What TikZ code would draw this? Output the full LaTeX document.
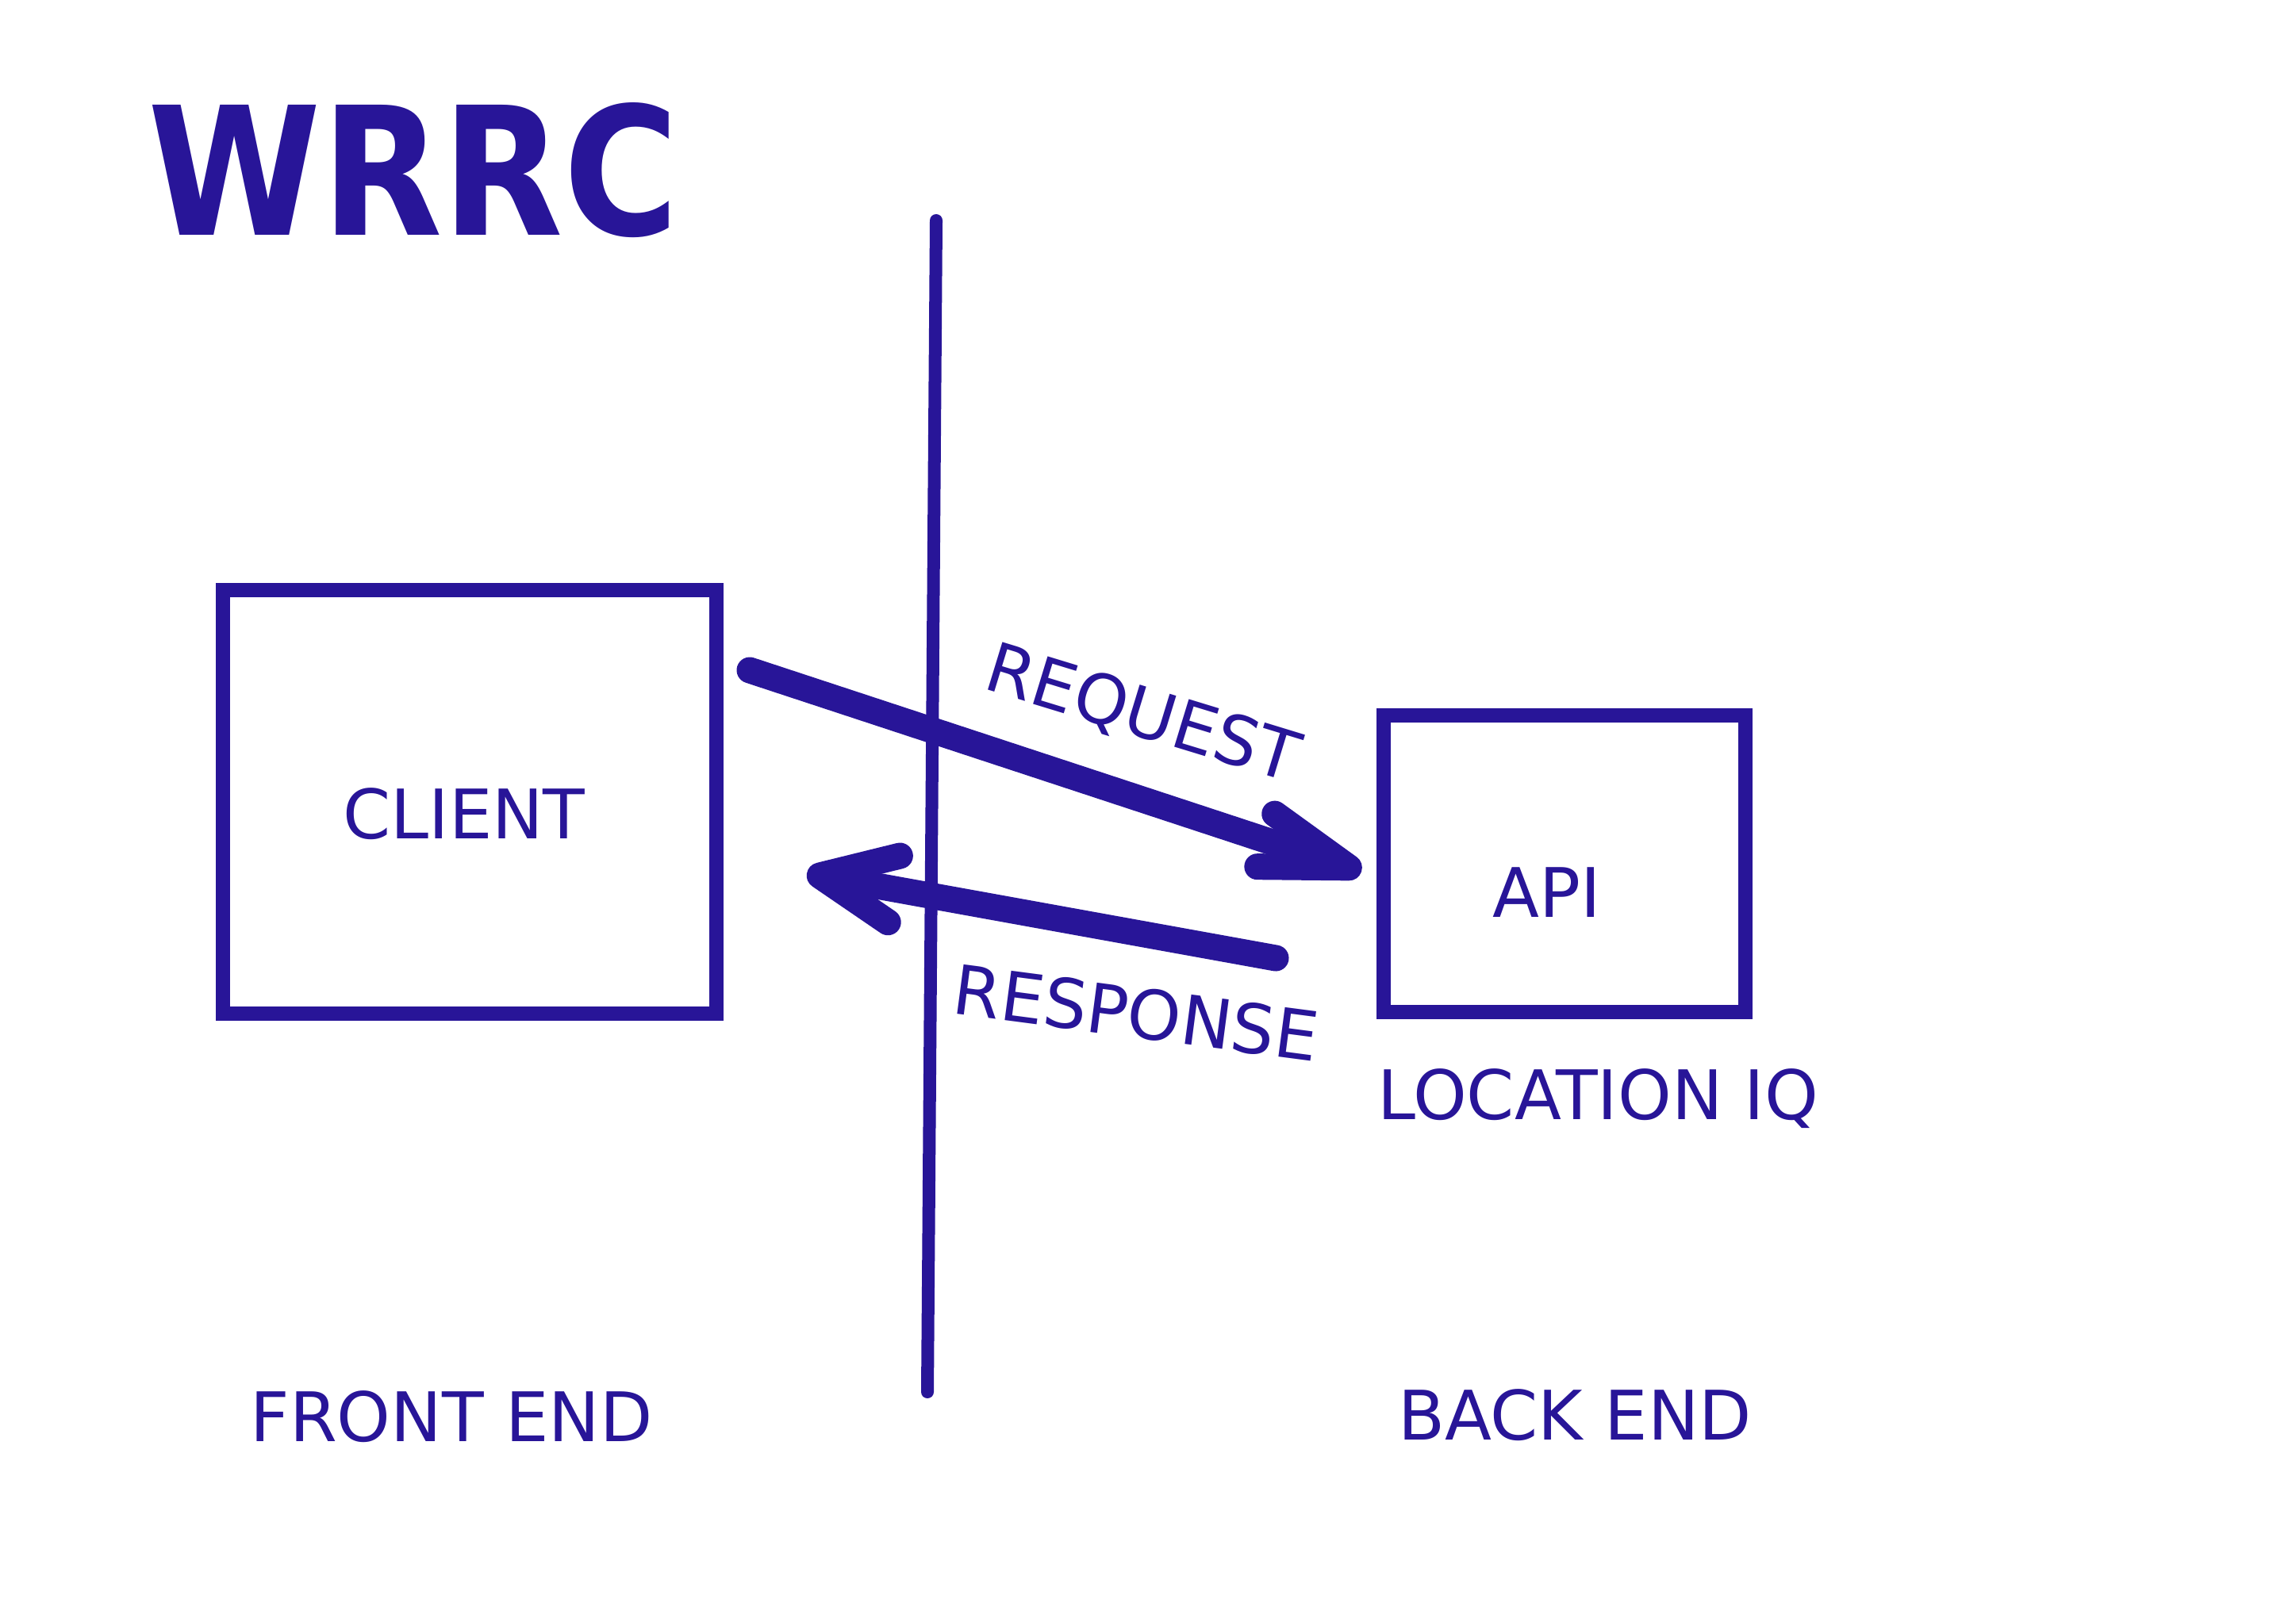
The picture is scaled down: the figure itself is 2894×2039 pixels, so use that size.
\documentclass[tikz,border=0pt]{standalone}
\usepackage{fontspec}
\setmainfont{DejaVu Sans}
\usetikzlibrary{arrows.meta, positioning}
\definecolor{ink}{RGB}{40,21,152}

\begin{document}
\begin{tikzpicture}[
    x=0.01cm, y=-0.01cm,
    box/.style={draw=ink, line width=0.18cm, inner sep=0pt},
    word/.style={text=ink, font=\fontsize{24.5}{30}\selectfont, inner sep=0pt},
    title/.style={text=ink, font=\fontsize{64}{70}\selectfont\bfseries, inner sep=0pt},
    flow/.style={draw=ink, line width=0.33cm, line cap=round, line join=round},
    divider/.style={draw=ink, line width=0.16cm, line cap=round}
]
\useasboundingbox (0,0) rectangle (2894,2039);

% 标题
\node[title] (wrrc) at (521,215) {\scalebox{0.88}[1]{WRRC}};

% 分隔线
\coordinate (divtop) at (1180,278);
\coordinate (divbot) at (1169,1755);
\draw[divider] (divtop) -- (divbot);

% 客户端
\node[box, minimum width=6.21cm, minimum height=5.33cm] (client) at (592,1011) {};
\node[word] (clientlbl) at (585,1026) {CLIENT};

% API
\node[box, minimum width=4.55cm, minimum height=3.74cm] (api) at (1972,1089) {};
\node[word] (apilbl) at (1950,1125) {API};
\node[word, below right=0.62cm and 0cm of api.south west] (lociq) {LOCATION IQ};

% 前端 / 后端
\node[word] (front) at (569,1786) {FRONT END};
\node[word] (back) at (1985,1784) {BACK END};

% 请求 / 响应
\coordinate (reqa) at (945,845);
\coordinate (reqb) at (1716,1099);
\draw[flow, -{Straight Barb[length=1.1cm, width=0.7cm, round]}] (reqa) -- (reqb);
\node[word, rotate=-17] (reqlbl) at (1440,902) {REQUEST};

\coordinate (resa) at (1608,1208);
\coordinate (resb) at (1017,1101);
\draw[flow, -{Straight Barb[length=0.95cm, width=0.85cm, round]}] (resa) -- (resb);
\node[word, rotate=-7.5] (reslbl) at (1432,1277) {RESPONSE};

\end{tikzpicture}
\end{document}
